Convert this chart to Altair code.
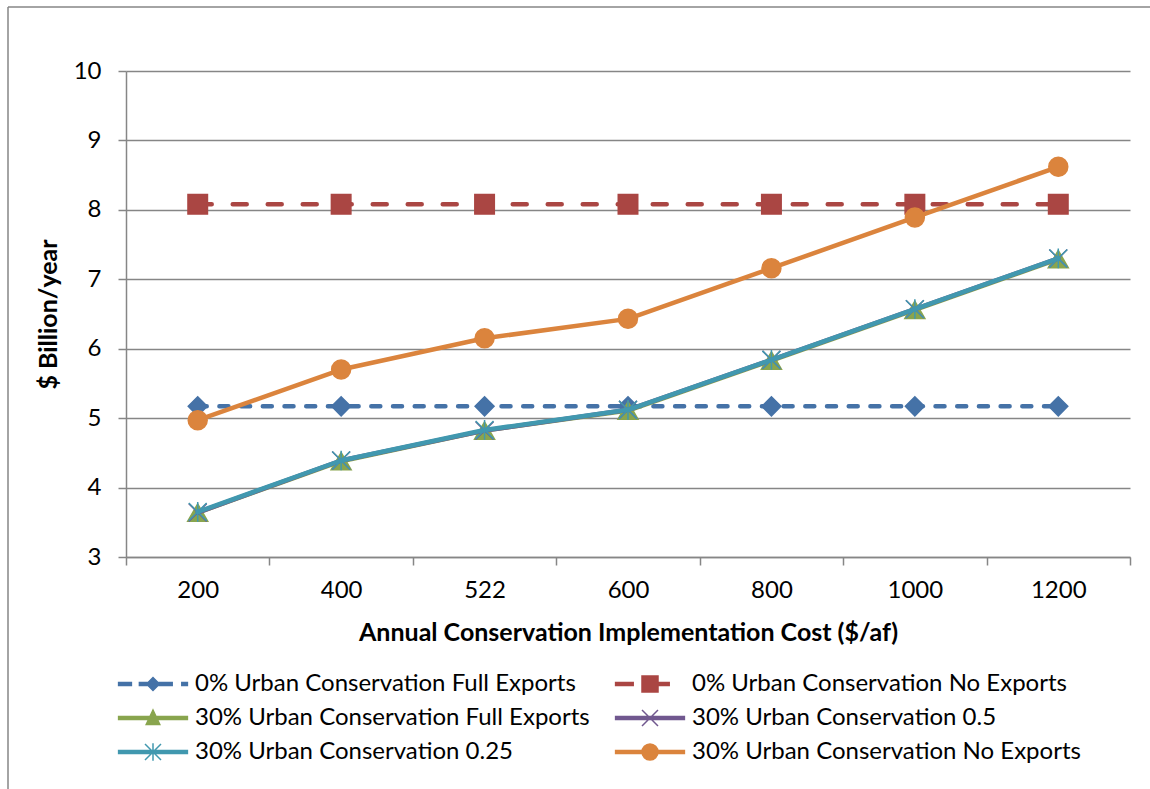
import altair as alt
import pandas as pd

# Annual conservation implementation cost ($/af) -- categorical x axis
categories = ["200", "400", "522", "600", "800", "1000", "1200"]

series_names = [
    "0% Urban Conservation Full Exports",
    "0% Urban Conservation No Exports",
    "30% Urban Conservation Full Exports",
    "30% Urban Conservation 0.5",
    "30% Urban Conservation 0.25",
    "30% Urban Conservation No Exports",
]

# $ Billion/year for each series
urban0_full = [5.17, 5.17, 5.17, 5.17, 5.17, 5.17, 5.17]
urban0_none = [8.08, 8.08, 8.08, 8.08, 8.08, 8.08, 8.08]
urban30_full = [3.64, 4.38, 4.82, 5.11, 5.83, 6.56, 7.29]
urban30_half = [3.64, 4.39, 4.82, 5.12, 5.84, 6.57, 7.30]
urban30_quarter = [3.65, 4.39, 4.83, 5.12, 5.84, 6.57, 7.30]
urban30_none = [4.97, 5.70, 6.15, 6.43, 7.16, 7.89, 8.62]

series_values = [urban0_full, urban0_none, urban30_full,
                 urban30_half, urban30_quarter, urban30_none]

# styling per series
colors = ["#4572A7", "#AA4643", "#89A54E", "#71588F", "#4198AF", "#DB843D"]
dashes = [[9, 12.7], [14, 21], None, None, None, None]
X_PATH = "M-1,-1L1,1M-1,1L1,-1"
STAR_PATH = "M-1,-1L1,1M-1,1L1,-1M0,-1.1L0,1.1"
markers = ["diamond", "square", "triangle-up", X_PATH, STAR_PATH, "circle"]
marker_sizes = [360, 380, 400, 320, 320, 360]

# legend glyphs: a short line segment (thin filled bars) with the marker on top
BAR = "M{a},-0.19H{b}V0.19H{a}Z"
legend_paths = [
    BAR.format(a=-4.3, b=-2.7) + BAR.format(a=-1.7, b=2.4) + BAR.format(a=3.6, b=4.3)
    + "M-0.8,0L0,-0.8L0.8,0L0,0.8Z",
    BAR.format(a=-4.3, b=-2.1) + "M-1,-1H1V1H-1Z" + BAR.format(a=1, b=2.4),
    BAR.format(a=-4.3, b=4.3) + "M0,-1L0.85,0.8L-0.85,0.8Z",
    BAR.format(a=-4.3, b=4.3) + "M-1,-1L1,1M-1,1L1,-1",
    BAR.format(a=-4.3, b=4.3) + "M-1,-1L1,1M-1,1L1,-1M0,-1.1L0,1.1",
    BAR.format(a=-4.3, b=4.3) + "M-1,0A1,1,0,1,1,1,0A1,1,0,1,1,-1,0Z",
]

rows = []
for name, vals in zip(series_names, series_values):
    for cat, val in zip(categories, vals):
        rows.append({"series": name, "cost": cat, "value": val})
df = pd.DataFrame(rows)

FONT = "Lato"
GRAY = "#868686"
LABEL_SIZE = 24
SYMBOL_OFFSET = 35 - LABEL_SIZE / 2

x_axis = alt.Axis(
    tickBand="extent", labelAngle=0, grid=False, tickSize=8,
    tickColor=GRAY, domainColor=GRAY, domainWidth=1.5, tickWidth=1.5,
    labelPadding=13, labelFontSize=24, titleFontSize=25, titleFontWeight="bold",
    titleY=75, titleBaseline="middle",
)
y_axis = alt.Axis(
    values=[3, 4, 5, 6, 7, 8, 9, 10], grid=True, gridColor=GRAY, gridWidth=1.5,
    tickSize=8, tickColor=GRAY, tickWidth=1.5, domainColor=GRAY, domainWidth=1.5,
    labelPadding=17, labelFontSize=24, titleFontSize=25, titleFontWeight="bold",
    titleX=-78, titleAngle=270, titleBaseline="middle",
)

x_enc = alt.X(
    "cost:O", sort=categories, bandPosition=0.5,
    scale=alt.Scale(type="band", domain=categories, paddingInner=0, paddingOuter=0),
    axis=x_axis, title="Annual Conservation  Implementation Cost ($/af)",
)
y_enc = alt.Y(
    "value:Q", scale=alt.Scale(domain=[3, 10], nice=False, zero=False),
    axis=y_axis, title="$ Billion/year",
)
color_scale = alt.Scale(domain=series_names, range=colors)

layers = []

# outer chart frame (left and top edges)
frame = alt.Data(values=[{}])
layers.append(alt.Chart(frame).mark_rule(color=GRAY, strokeWidth=1.5).encode(
    x=alt.value(-118), y=alt.value(-64), y2=alt.value(740)))
layers.append(alt.Chart(frame).mark_rule(color=GRAY, strokeWidth=1.5).encode(
    x=alt.value(-118), x2=alt.value(1040), y=alt.value(-64)))

# each series: line, then its markers
for i, name in enumerate(series_names):
    sub = alt.Chart(df).transform_filter(alt.datum.series == name)
    line_kw = dict(strokeWidth=4.5, strokeCap="round", strokeJoin="round", color=colors[i])
    if dashes[i] is not None:
        line_kw["strokeDash"] = dashes[i]
    layers.append(sub.mark_line(**line_kw).encode(x=x_enc, y=y_enc))
    layers.append(sub.mark_point(
        shape=markers[i], filled=True, size=marker_sizes[i],
        strokeWidth=1.5, fill=colors[i], stroke=colors[i], opacity=1,
    ).encode(x=x_enc, y=y_enc))

# legend (no marks drawn, only its entries), two columns filled row by row
leg = alt.Legend(
    title=None, orient="none", legendX=-8, legendY=601, columns=2,
    direction="horizontal", columnPadding=22, rowPadding=10, padding=0,
    symbolSize=256, symbolStrokeWidth=1.5,
    symbolOffset=SYMBOL_OFFSET, labelOffset=77 - LABEL_SIZE - SYMBOL_OFFSET,
    labelFont=FONT, labelFontSize=LABEL_SIZE, labelColor="black", labelLimit=800,
)
layers.append(
    alt.Chart(df).transform_filter("datum.value < 0")
    .mark_point(filled=True, size=256, strokeWidth=1.5, opacity=1)
    .encode(
        x=x_enc, y=y_enc,
        fill=alt.Fill("series:N", scale=color_scale, legend=leg),
        stroke=alt.Stroke("series:N", scale=color_scale, legend=leg),
        shape=alt.Shape("series:N",
                        scale=alt.Scale(domain=series_names, range=legend_paths),
                        legend=leg),
    )
)

chart = (
    alt.layer(*layers)
    .properties(
        width=1004, height=486,
        padding={"left": 126, "top": 71, "right": 20, "bottom": 232},
        autosize=alt.AutoSizeParams(type="none"),
        background="white",
    )
    .configure_view(stroke=None)
    .configure_axis(labelFont=FONT, titleFont=FONT, labelColor="black", titleColor="black")
)

chart.save("out.html", embed_options={"renderer": "svg", "actions": False})
